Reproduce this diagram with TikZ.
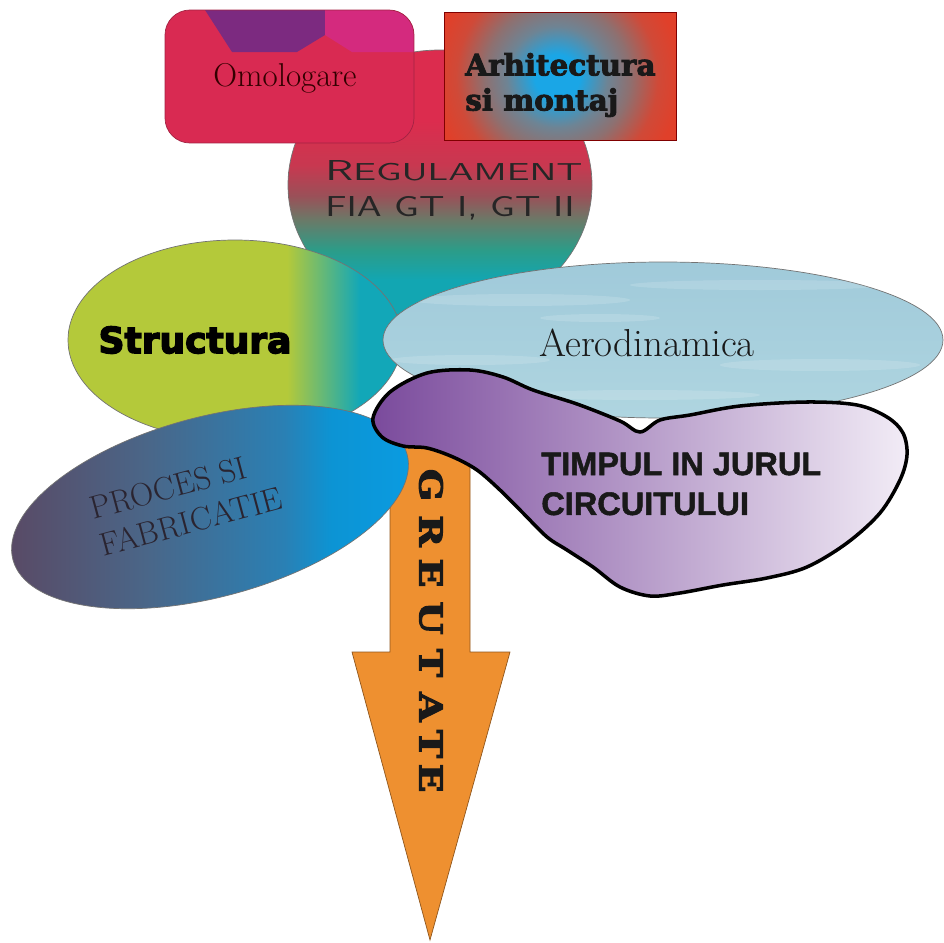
\documentclass[tikz,border=0pt]{standalone}
\usepackage{fontspec}
\newfontfamily\heavyserif{DejaVu Serif}[BoldFeatures={FakeBold=3}]
\newfontfamily\heavysans{DejaVu Sans}[BoldFeatures={FakeBold=4}]
\newfontfamily\narrowsans{Liberation Sans}[BoldFeatures={FakeBold=1.5}]

\definecolor{omolred}{HTML}{D92A52}
\definecolor{omolpurple}{HTML}{7C2A80}
\definecolor{omolmagenta}{HTML}{D42A7E}
\definecolor{omoledge}{HTML}{A32343}
\definecolor{archblue}{HTML}{1AA6E6}
\definecolor{archgray}{HTML}{6E8494}
\definecolor{archbrown}{HTML}{8E7070}
\definecolor{archred}{HTML}{E0402A}
\definecolor{regred}{HTML}{DC2C4E}
\definecolor{regredb}{HTML}{C83850}
\definecolor{regbrown}{HTML}{9A5058}
\definecolor{regolive}{HTML}{6A7A68}
\definecolor{reggreen}{HTML}{2C9C88}
\definecolor{regteal}{HTML}{12A6B2}
\definecolor{strgreen}{HTML}{B4C93A}
\definecolor{strteal}{HTML}{12A7B8}
\definecolor{procdark}{HTML}{5A4863}
\definecolor{procmid}{HTML}{4A6688}
\definecolor{procblue}{HTML}{2A80B4}
\definecolor{procbright}{HTML}{0C94D4}
\definecolor{procend}{HTML}{0A9CE2}
\definecolor{proctextc}{HTML}{2A2430}
\definecolor{aerotop}{HTML}{A0CADA}
\definecolor{aeromid}{HTML}{C4E2DE}
\definecolor{aerobot}{HTML}{AFD5E0}
\definecolor{timpleft}{HTML}{7A4A9C}
\definecolor{timpmid}{HTML}{A688C2}
\definecolor{timpright}{HTML}{F2ECF6}
\definecolor{greutorange}{HTML}{EE9030}

\pgfdeclareverticalshading{regshade}{100bp}{color(0bp)=(regteal); color(25bp)=(regteal); color(32.4bp)=(regteal); color(38bp)=(reggreen); color(43.5bp)=(regolive); color(48bp)=(regbrown); color(53.7bp)=(regredb); color(62bp)=(regred); color(100bp)=(regred)}
\pgfdeclarehorizontalshading{strshade}{100bp}{color(0bp)=(strgreen); color(57.8bp)=(strgreen); color(68.7bp)=(strteal); color(100bp)=(strteal)}
\pgfdeclarehorizontalshading{procshade}{100bp}{color(0bp)=(procdark); color(25bp)=(procdark); color(42.4bp)=(procmid); color(58.8bp)=(procblue); color(64.5bp)=(procbright); color(75bp)=(procend); color(100bp)=(procend)}
\pgfdeclareradialshading{archshade}{\pgfpoint{0bp}{0bp}}{color(0bp)=(archblue); color(4bp)=(archblue); color(9bp)=(archgray); color(13bp)=(archbrown); color(18bp)=(archred!80!archbrown); color(22bp)=(archred); color(50bp)=(archred)}

\tikzset{
  edge/.style={draw=black!55, line width=0.4pt},
  omoltext/.style={inner sep=0pt, text=black!80!red, font=\fontsize{18.8}{22}\selectfont},
  archtext/.style={inner sep=0pt, align=left, text=black!90, font=\heavyserif\bfseries\fontsize{16.7}{20}\selectfont},
  regtext/.style={inner sep=0pt, align=left, text=black!85, font=\sffamily\fontsize{16.4}{20.5}\selectfont},
  strtext/.style={inner sep=0pt, text=black, font=\heavysans\bfseries\fontsize{20.5}{24}\selectfont},
  aerotext/.style={inner sep=0pt, text=black!90, font=\fontsize{22.2}{26}\selectfont},
  proctext/.style={inner sep=0pt, align=left, text=proctextc, font=\fontsize{18.5}{22}\selectfont},
  timptext/.style={inner sep=0pt, align=left, text=black!90, font=\narrowsans\bfseries\fontsize{18.5}{22.7}\selectfont},
  greuttext/.style={inner sep=0pt, text=black!90, font=\heavyserif\bfseries\fontsize{18}{22}\selectfont},
  streak/.style={white, opacity=0.15}
}

\begin{document}
\begin{tikzpicture}[x=0.02cm, y=-0.02cm]
\useasboundingbox (0,0) rectangle (944,943);
% regulament
\draw[edge, shade, shading=regshade] (440,185) ellipse [x radius=152, y radius=135];
% omologare
\begin{scope}
\clip[rounded corners=0.5cm] (165,10) rectangle (414,143);
\fill[omolred] (165,10) rectangle (414,143);
\fill[omolpurple] (205,10) -- (325,10) -- (325,35) -- (297,52) -- (232,52) -- cycle;
\fill[omolmagenta] (325,10) -- (414,10) -- (414,52) -- (352,52) -- (325,35) -- cycle;
\end{scope}
\draw[omoledge, line width=0.4pt, rounded corners=0.5cm] (165,10) rectangle (414,143);
% arhitectura
\begin{scope}
\clip (444,12) rectangle (676,140);
\shade[shading=archshade] (557,77) circle [radius=140];
\end{scope}
\draw[draw=black!50!red, line width=0.4pt] (444,12) rectangle (676,140);
% structura
\draw[edge, shade, shading=strshade] (235,340) ellipse [x radius=167, y radius=100];
% aerodinamica
\draw[edge, top color=aerotop, middle color=aeromid, bottom color=aerobot] (663,340) ellipse [x radius=280, y radius=78];
\begin{scope}
\clip (663,340) ellipse [x radius=280, y radius=78];
\fill[streak] (520,300) ellipse [x radius=110, y radius=6];
\fill[streak] (760,285) ellipse [x radius=130, y radius=5];
\fill[streak] (470,360) ellipse [x radius=80, y radius=5];
\fill[streak] (820,365) ellipse [x radius=100, y radius=6];
\fill[streak] (640,395) ellipse [x radius=120, y radius=5];
\fill[streak] (600,318) ellipse [x radius=60, y radius=4];
\end{scope}
% greutate
\draw[draw=black!40!greutorange, line width=0.4pt, fill=greutorange] (390,430) -- (470,430) -- (470,652) -- (510,652) -- (430,940) -- (352,652) -- (390,652) -- cycle;
% proces
\draw[edge, shade, shading=procshade, rotate around={15:(210,507)}] (210,507) ellipse [x radius=204, y radius=90];
% timpul
\draw[black, line width=2pt, left color=timpleft, middle color=timpmid, right color=timpright]
  plot[smooth cycle, tension=0.55] coordinates {(373,418) (390,392) (427,373) (470,370) (503,377) (533,390) (577,404) (620,421) (640,432) (660,420) (690,415) (740,406) (807,402) (857,405) (887,417) (903,433) (907,455) (900,480) (880,513) (847,543) (807,567) (767,578) (723,585) (680,593) (650,596) (620,587) (593,567) (567,550) (547,537) (523,513) (500,490) (477,470) (453,457) (427,448) (403,446) (382,437)};

\node[omoltext] (omol) at (285,78) {Omologare};
\node[archtext, anchor=west] (archi) at (465,85) {Arhitectura\\si montaj};
\node[regtext, anchor=west] (regul) at (325,190) {\scalebox{1.6}[1]{R{\fontsize{13.9}{20.5}\selectfont EGULAMENT}}\\\scalebox{1.38}[1]{FIA GT I, GT II}};
\node[strtext] (struct) at (195,340) {Structura};
\node[aerotext] (aero) at (647,343) {Aerodinamica};
\node[proctext, rotate=15] (proces) at (186,503) {PROCES SI\\FABRICATIE};
\node[timptext, anchor=west] (timpul) at (541,484) {TIMPUL IN JURUL\\CIRCUITULUI};
\foreach \ch/\yy [count=\i] in {G/485, R/531, E/573, U/618, T/663, A/707, T/744, E/778}
  \node[greuttext, rotate=-90] (greut\i) at (431,\yy) {\scalebox{1.2}[1]{\ch}};
\end{tikzpicture}
\end{document}
